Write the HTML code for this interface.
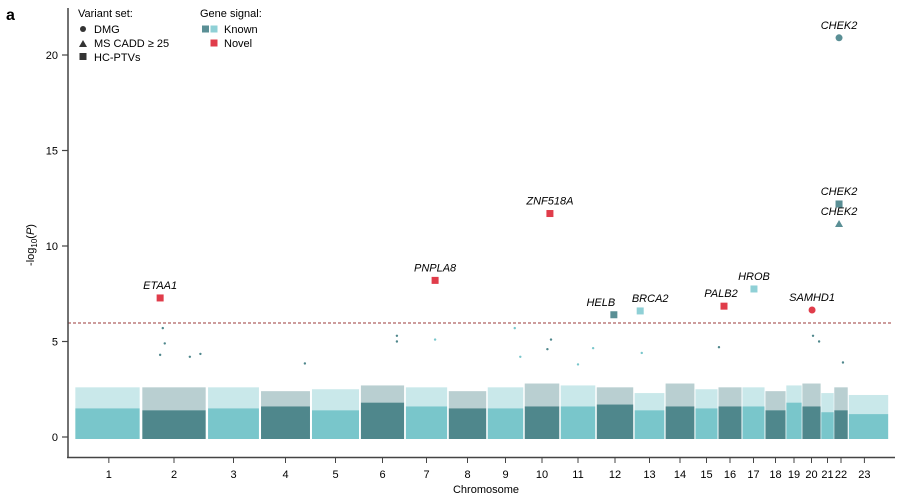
<!DOCTYPE html>
<html><head><meta charset="utf-8"><style>
body{margin:0;background:#fff;}
svg{display:block;font-family:"Liberation Sans",Arial,sans-serif;}
</style></head><body>
<svg id="chart" width="907" height="501" viewBox="0 0 907 501" xmlns="http://www.w3.org/2000/svg">
<text x="6" y="20" font-size="16" font-weight="bold">a</text>
<g font-size="11">
<text x="78" y="17">Variant set:</text>
<circle cx="83" cy="29" r="3" fill="#333"/>
<text x="94" y="33">DMG</text>
<polygon points="83,40 87,47 79,47" fill="#333"/>
<text x="94" y="47">MS CADD ≥ 25</text>
<rect x="79.5" y="53" width="7" height="7" fill="#333"/>
<text x="94" y="61">HC-PTVs</text>
</g>
<g font-size="11">
<text x="200" y="17">Gene signal:</text>
<rect x="202" y="25.5" width="7" height="7" fill="#5a8f95"/>
<rect x="210.5" y="25.5" width="7" height="7" fill="#8fd0d6"/>
<text x="224" y="33">Known</text>
<rect x="210.5" y="39.5" width="7" height="7" fill="#e03c4a"/>
<text x="224" y="47">Novel</text>
</g>
<g id="plot"></g>
</svg>
<script>
const chromLabels=["1","2","3","4","5","6","7","8","9","10","11","12","13","14","15","16","17","18","19","20","21","22","23"];
const chromSizes=[67,66,53,51,49,45,43,39,37,36,36,38,31,30,23,24,23,21,16,19,13,14,41];
const tickPos=[0.52,0.5,0.5,0.5,0.5,0.5,0.5,0.5,0.5,0.5,0.5,0.5,0.5,0.5,0.5,0.5,0.5,0.5,0.5,0.5,0.5,0.5,0.4];
const denseTop=[1.5,1.4,1.5,1.6,1.4,1.8,1.6,1.5,1.5,1.6,1.6,1.7,1.4,1.6,1.5,1.6,1.6,1.4,1.8,1.6,1.3,1.4,1.2];
const sparseTop=[2.6,2.6,2.6,2.4,2.5,2.7,2.6,2.4,2.6,2.8,2.7,2.6,2.3,2.8,2.5,2.6,2.6,2.4,2.7,2.8,2.3,2.6,2.2];
const yTicks=[0,5,10,15,20];
const threshold=5.97;
const outChr=[2,2,2,2,6,6,7,4,20,20,10,16,11,9,13,22,2,9,10,11];
const outFrac=[0.36,0.29,0.74,0.9,0.82,0.82,0.7,0.88,0.58,0.9,0.75,0.04,0.92,0.9,0.25,0.64,0.33,0.75,0.65,0.5];
const outVal=[4.9,4.3,4.2,4.35,5.3,5.0,5.1,3.85,5.3,5.0,5.1,4.7,4.65,4.2,4.4,3.9,5.7,5.7,4.6,3.8];
const hitGenes=["ETAA1","PNPLA8","ZNF518A","HELB","BRCA2","PALB2","HROB","SAMHD1","CHEK2","CHEK2","CHEK2"];
const hitChr=[2,7,10,12,13,16,17,20,22,22,22];
const hitFrac=[0.29,0.7,0.72,0.47,0.2,0.25,0.52,0.53,0.36,0.36,0.36];
const hitVal=[7.28,8.2,11.7,6.4,6.6,6.85,7.75,6.65,20.9,12.2,11.15];
const hitShape=["square","square","square","square","square","square","square","circle","circle","square","triangle"];
const hitSignal=["novel","novel","novel","knownDark","knownLight","novel","knownLight","novel","knownDark","knownDark","knownDark"];
const labelDx=[0,0,0,-13,10,-3,0,0,0,0,0];

const NS="http://www.w3.org/2000/svg";
const g=document.getElementById('plot');
const X0=74,X1=889,Y0=437,PPU=19.1;
const total=chromSizes.reduce((a,b)=>a+b,0);
const starts=[];let acc=0;chromSizes.forEach(s=>{starts.push(acc);acc+=s;});
function xs(chr,frac){const i=chr-1;return X0+(starts[i]+frac*chromSizes[i])/total*(X1-X0);}
function ys(v){return Y0-v*PPU;}
function mk(tag,attrs){const e=document.createElementNS(NS,tag);for(const k in attrs)e.setAttribute(k,attrs[k]);g.appendChild(e);return e;}
const light="#79c6cb",dark="#4f878c";
const colors={novel:"#e03c4a",knownDark:"#5a8f95",knownLight:"#8fd0d6"};
chromLabels.forEach((c,i)=>{
  const xa=xs(i+1,0.02),xb=xs(i+1,0.98),col=i%2===0?light:dark;
  let e=mk('rect',{x:xa,y:ys(sparseTop[i]),width:xb-xa,height:ys(denseTop[i])-ys(sparseTop[i]),fill:col,opacity:0.4});
  
  
  e=mk('rect',{x:xa,y:ys(denseTop[i]),width:xb-xa,height:Y0+2-ys(denseTop[i]),fill:col});
  
  
});
outVal.forEach((v,i)=>{
  const ci=outChr[i]-1;
  const e=mk('circle',{cx:xs(outChr[i],outFrac[i]),cy:ys(v),r:1.2,fill:ci%2===0?light:dark});
  
  
});
let t=mk('line',{x1:68,x2:893,y1:ys(threshold),y2:ys(threshold),stroke:"#9b3a3a","stroke-width":1,"stroke-dasharray":"3,2"});


let a=mk('line',{x1:68,x2:68,y1:8,y2:458,stroke:"#444","stroke-width":1.5});


a=mk('line',{x1:67,x2:895,y1:457.5,y2:457.5,stroke:"#444","stroke-width":1.5});


yTicks.forEach(v=>{
  let l=mk('line',{x1:62,x2:68,y1:ys(v),y2:ys(v),stroke:"#444","stroke-width":1.2});
  
  
  let tx=mk('text',{x:58,y:ys(v)+4,"font-size":11,"text-anchor":"end"});tx.textContent=v;
  
  
});
chromLabels.forEach((c,i)=>{
  const x=xs(i+1,tickPos[i]);
  let l=mk('line',{x1:x,x2:x,y1:458,y2:463,stroke:"#444","stroke-width":1});
  
  
  let tx=mk('text',{x:x,y:478,"font-size":11,"text-anchor":"middle"});tx.textContent=c;
  
  
});
let xt=mk('text',{x:486,y:493,"font-size":11,"text-anchor":"middle"});xt.textContent="Chromosome";


let yt=mk('text',{x:0,y:0,"font-size":11,"text-anchor":"middle",transform:"translate(34,245) rotate(-90)"});
yt.innerHTML='-log<tspan font-size="8" dy="3">10</tspan><tspan dy="-3">(</tspan><tspan font-style="italic">P</tspan>)';


hitVal.forEach((v,i)=>{
  const x=xs(hitChr[i],hitFrac[i]),y=ys(v),col=colors[hitSignal[i]];let e;
  if(hitShape[i]==="square")e=mk('rect',{x:x-3.5,y:y-3.5,width:7,height:7,fill:col});
  else if(hitShape[i]==="circle")e=mk('circle',{cx:x,cy:y,r:3.5,fill:col});
  else e=mk('polygon',{points:`${x},${y-4} ${x+4},${y+3} ${x-4},${y+3}`,fill:col});
  
  
  const lt=mk('text',{x:x+labelDx[i],y:y-9,"font-size":11,"font-style":"italic","text-anchor":"middle"});
  lt.textContent=hitGenes[i];
  
  
});
</script>
</body></html>
